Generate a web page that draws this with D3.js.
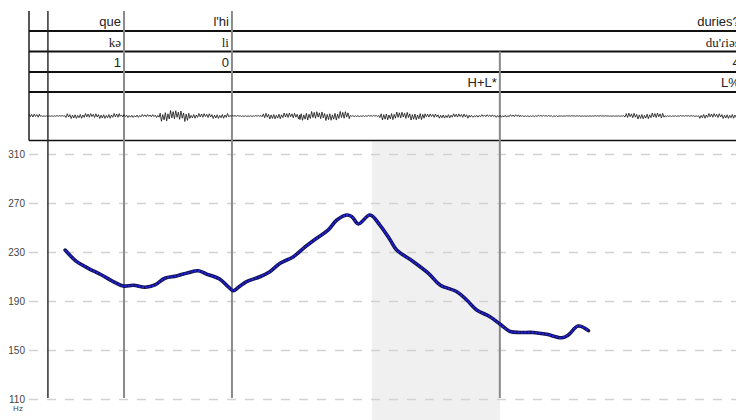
<!DOCTYPE html>
<html>
<head>
<meta charset="utf-8">
<script src="https://cdn.jsdelivr.net/npm/d3@7"></script>
<style>
  body { margin: 0; background: #fff; }
  svg { display: block; }
  .tier text { font-family: "Liberation Sans Narrow", "Arial Narrow", "Liberation Sans", sans-serif; font-size: 13px; fill: #222; }
  .tier text.ipa { font-family: "Liberation Serif", "DejaVu Serif", serif; }
  .yaxis text { font-family: "Liberation Sans Narrow", "Arial Narrow", "Liberation Sans", sans-serif; font-size: 10px; fill: #444; }
</style>
</head>
<body>
<svg id="chart" width="736" height="420"></svg>
<script>
// Pitch track (time in s, F0 in Hz)
const pitchTimes = [0.084, 0.111, 0.138, 0.169, 0.196, 0.219, 0.243, 0.270, 0.293, 0.316,
                    0.343, 0.370, 0.394, 0.413, 0.444, 0.463, 0.475, 0.487, 0.506, 0.537,
                    0.560, 0.584, 0.615, 0.638, 0.669, 0.696, 0.716, 0.739, 0.751, 0.766,
                    0.793, 0.816, 0.840, 0.855, 0.894, 0.929, 0.956, 0.995, 1.018, 1.041,
                    1.072, 1.095, 1.119, 1.142, 1.173, 1.204, 1.239, 1.254, 1.277, 1.301];
const pitchHz = [231.6, 222.1, 216.7, 211.2, 205.8, 202.2, 202.8, 201.2, 203.1, 208.6,
                 210.4, 213.1, 214.7, 212.0, 207.7, 201.7, 198.4, 201.2, 205.8, 209.8,
                 213.9, 220.8, 226.2, 233.0, 241.2, 248.0, 256.1, 260.2, 258.8, 252.9,
                 260.2, 252.0, 239.8, 231.6, 222.1, 212.6, 203.1, 197.6, 190.8, 182.7,
                 177.2, 171.2, 165.1, 164.3, 164.3, 162.8, 160.0, 162.2, 169.6, 165.8];

const yTicks = [110, 150, 190, 230, 270, 310];

// TextGrid tiers: interval end times and labels
const tierWords = [[0.221, "que"], [0.472, "l'hi"], [1.66, "duries?"]];
const tierIPA   = [[0.221, "kə"], [0.472, "li"], [1.66, "du'ɾiəs"]];
const tierBreak = [[0.221, "1"], [0.472, "0"], [1.095, ""], [1.66, "4"]];
const tierTone  = [[1.095, "H+L*"], [1.66, "L%"]];

// boundary lines: [time, first tier index it starts in]
const boundaries = [[0.221, 0], [0.472, 0], [1.095, 2]];
const shadeSpan = [0.798, 1.095];
const plotStart = 0.044;

// waveform envelope: [t0, t1, amplitude px]
const waveEnv = [[0.000, 0.026, 2], [0.026, 0.086, 0.4], [0.086, 0.212, 2.5], [0.212, 0.305, 1.5],
                 [0.305, 0.374, 5.5], [0.374, 0.467, 2.5], [0.467, 0.542, 0.5], [0.542, 0.630, 3],
                 [0.630, 0.747, 4.5], [0.747, 0.816, 0.6], [0.816, 0.921, 4], [0.921, 1.026, 2.2],
                 [1.026, 1.142, 1.3], [1.142, 1.235, 0.7], [1.235, 1.386, 0.3], [1.386, 1.479, 3],
                 [1.479, 1.560, 0.5], [1.560, 1.66, 2.5]];

const W = 736, H = 420;
const left = 29;
const rowEdges = [11, 31, 51.5, 72, 92];
const waveBottom = 140.5;

const svg = d3.select("#chart");

var x = d3.scaleLinear().domain([0, 1.66]).range([left, left + 1.66 * 430]);
var y = d3.scaleLinear().domain([110, 310]).range([399, 154]);

// shaded interval (H+L*)
svg.append("rect")
    .attr("x", x(shadeSpan[0]))
    .attr("y", waveBottom + 1)
    .attr("width", x(shadeSpan[1]) - x(shadeSpan[0]))
    .attr("height", H - waveBottom)
    .attr("fill", "#f0f0f0");

// y axis with dashed grid
var yAxis = svg.append("g")
    .attr("class", "yaxis")
    .attr("transform", "translate(" + left + ",0)")
    .call(d3.axisLeft(y).tickValues(yTicks).tickSize(-(W - left)).tickPadding(4).tickFormat(d3.format("d")));
yAxis.select(".domain").remove();
yAxis.selectAll(".tick line")
    .attr("x1", 0).attr("x2", W - left)
    .attr("stroke", "#d2d2d2")
    .attr("stroke-width", 1.6)
    .attr("stroke-dasharray", "9,9");
yAxis.selectAll(".tick text").attr("dy", "0.3em");

svg.append("text")
    .attr("x", 18).attr("y", 411)
    .attr("text-anchor", "middle")
    .style("font-family", "'Liberation Sans Narrow', 'Liberation Sans', sans-serif")
    .style("font-size", "8px")
    .style("fill", "#444")
    .text("Hz");

// tier horizontal lines
rowEdges.slice(1).concat([waveBottom]).forEach(function(yy) {
    svg.append("line")
        .attr("x1", left).attr("x2", W)
        .attr("y1", yy).attr("y2", yy)
        .attr("stroke", "#111")
        .attr("stroke-width", yy === waveBottom ? 1.4 : 2);
});

// left border of tiers/waveform
svg.append("line")
    .attr("x1", left).attr("x2", left)
    .attr("y1", rowEdges[0]).attr("y2", waveBottom)
    .attr("stroke", "#111").attr("stroke-width", 1.4);

// plot left line
svg.append("line")
    .attr("x1", x(plotStart)).attr("x2", x(plotStart))
    .attr("y1", rowEdges[0]).attr("y2", y(110) - 1)
    .attr("stroke", "#222").attr("stroke-width", 1.4);

// interval boundaries
svg.selectAll(".bound")
    .data(boundaries)
    .enter()
    .append("line")
        .attr("class", "bound")
        .attr("x1", d => x(d[0])).attr("x2", d => x(d[0]))
        .attr("y1", d => rowEdges[d[1]]).attr("y2", y(110) - 1)
        .attr("stroke", "#8a8a8a")
        .attr("stroke-width", 2);

// tier labels, right aligned in their interval
function drawTier(data, row, cls) {
    svg.append("g").attr("class", "tier")
        .selectAll("text")
        .data(data)
        .enter()
        .append("text")
            .attr("class", cls || null)
            .attr("x", d => x(d[0]) - 3)
            .attr("y", rowEdges[row + 1] - 5)
            .attr("text-anchor", "end")
            .text(d => d[1]);
}
drawTier(tierWords, 0);
drawTier(tierIPA, 1, "ipa");
drawTier(tierBreak, 2);
drawTier(tierTone, 3);

// waveform: zigzag inside each envelope segment
var waveMid = 116;
var wavePts = [];
var wiggle = [1, 0.35, 0.8, 0.5, 0.95, 0.25, 0.7, 0.6, 0.9, 0.4, 0.55];
var k = 0;
waveEnv.forEach(function(seg) {
    for (var px = x(seg[0]); px < x(seg[1]); px += 1.3) {
        var s = (k % 2 === 0) ? -1 : 1;
        wavePts.push([px, waveMid + s * seg[2] * wiggle[k % wiggle.length]]);
        k++;
    }
});
svg.append("path")
    .attr("d", d3.line()(wavePts))
    .attr("fill", "none")
    .attr("stroke", "#111")
    .attr("stroke-width", 0.8);

// pitch contour
var pitch = pitchTimes.map((t, i) => [x(t), y(pitchHz[i])]);
var pline = d3.line().curve(d3.curveCatmullRom);
svg.append("path")
    .attr("d", pline(pitch))
    .attr("fill", "none")
    .attr("stroke", "#111150")
    .attr("stroke-width", 3.6)
    .attr("stroke-linejoin", "round")
    .attr("stroke-linecap", "round");
svg.append("path")
    .attr("d", pline(pitch))
    .attr("fill", "none")
    .attr("stroke", "#2424e0")
    .attr("stroke-width", 1.8)
    .attr("stroke-dasharray", "2.5,1")
    .attr("stroke-linejoin", "round");
</script>
</body>
</html>
